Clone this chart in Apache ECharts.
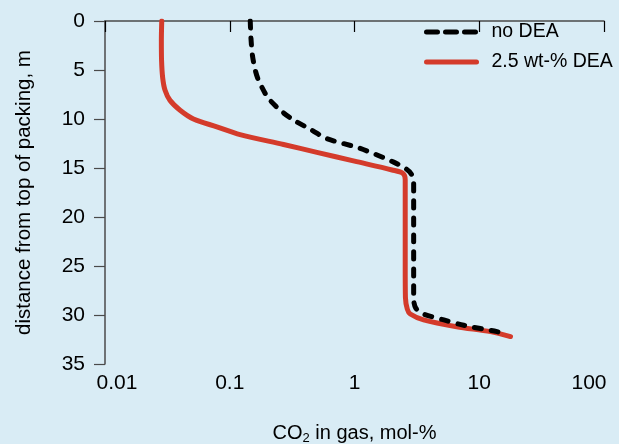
<!DOCTYPE html>
<html>
<head>
<meta charset="utf-8">
<script src="https://cdn.jsdelivr.net/npm/echarts@6/dist/echarts.min.js"></script>
<style>
html,body{margin:0;padding:0;background:#d9ecf5;}
#c{width:619px;height:444px;}
</style>
</head>
<body>
<div id="c"></div>
<script>
const seriesNames = ['no DEA', '2.5 wt-% DEA'];
const xTickLabels = ['0.01', '0.1', '1', '10', '100'];
const yTickLabels = [0, 5, 10, 15, 20, 25, 30, 35];
// [CO2 mol-%, distance m]
const noDEA = [
  [0.146, 0], [0.148, 1.8], [0.152, 3.5], [0.16, 5], [0.17, 6.05], [0.187, 7.1],
  [0.204, 7.9], [0.254, 9.1], [0.324, 10.1], [0.45, 11.1], [0.60, 12.0], [1.11, 13.0],
  [2.06, 14.4], [2.6, 15.1], [2.85, 15.6], [2.98, 16.4], [2.98, 18], [2.98, 22], [2.98, 26],
  [2.98, 28.3], [3.1, 29.3], [3.58, 29.9], [5.2, 30.5], [7.5, 31.05], [13.9, 31.7],
  [15.6, 31.9]
];
const dea25 = [
  [0.0285, 0], [0.0283, 2], [0.0284, 4], [0.029, 5.8], [0.0303, 7.07], [0.0332, 8.1],
  [0.040, 9.1], [0.0512, 10.0], [0.0788, 10.8], [0.121, 11.6], [0.27, 12.6],
  [0.50, 13.4], [1.0, 14.3], [2.0, 15.2], [2.45, 15.55], [2.55, 16.2], [2.55, 20],
  [2.55, 25], [2.56, 28.2], [2.65, 29.4], [2.8, 29.9], [3.58, 30.5], [6.6, 31.2],
  [12.3, 31.7], [17.8, 32.2]
];

const chart = echarts.init(document.getElementById('c'), null, {renderer: 'canvas'});
const FONT = 'Liberation Sans';
const axisColor = '#4a4a4a';
chart.setOption({
  backgroundColor: '#d9ecf5',
  animation: false,
  textStyle: {fontFamily: FONT, color: '#000'},
  grid: {left: 105, right: 15, top: 21, bottom: 80, containLabel: false, outerBoundsMode: 'none'},
  legend: {
    orient: 'vertical',
    left: 424, top: 22, padding: 0,
    itemWidth: 50, itemHeight: 20, itemGap: 10,
    itemStyle: {opacity: 0},
    lineStyle: {width: 5, cap: 'round'},
    textStyle: {fontFamily: FONT, fontSize: 19.5, lineHeight: 20, color: '#000', padding: [0, 0, 0, 10]},
    data: [
      {name: seriesNames[0], lineStyle: {width: 5, cap: 'round', type: [11, 8]}},
      {name: seriesNames[1], lineStyle: {width: 5, cap: 'round', type: 'solid'}}
    ]
  },
  xAxis: {
    type: 'log', logBase: 10, min: 0.01, max: 100,
    name: '{a|CO}{s|2}{a| in gas, mol-%}',
    nameLocation: 'middle', nameGap: 58,
    nameTextStyle: {
      rich: {
        a: {fontFamily: FONT, fontSize: 20, color: '#000'},
        s: {fontFamily: FONT, fontSize: 13, color: '#000', verticalAlign: 'bottom', padding: [10, 0, 0, 0]}
      }
    },
    axisLine: {show: true, lineStyle: {color: axisColor, width: 1.5}},
    axisTick: {show: true, inside: false, length: 11, lineStyle: {color: '#000', width: 1.2}},
    minorTick: {show: false},
    splitLine: {show: false},
    axisLabel: {
      fontFamily: FONT, fontSize: 21, color: '#000', margin: 9,
      formatter: function (v) {
        const idx = Math.round(Math.log10(v)) + 2;
        const t = xTickLabels[idx] !== undefined ? xTickLabels[idx] : '';
        if (idx === 0) return '{l|' + t + '}';
        if (idx === 4) return '{r|' + t + '}';
        return t;
      },
      rich: {
        l: {fontFamily: FONT, fontSize: 21, color: '#000', padding: [0, 0, 0, 24]},
        r: {fontFamily: FONT, fontSize: 21, color: '#000', padding: [0, 30, 0, 0]}
      }
    }
  },
  yAxis: {
    type: 'value', inverse: true, min: 0, max: 35, interval: 5,
    name: 'distance from top of packing, m',
    nameLocation: 'middle', nameGap: 70, nameRotate: 90,
    nameTextStyle: {fontFamily: FONT, fontSize: 20.5, color: '#000'},
    axisLine: {show: true, lineStyle: {color: axisColor, width: 1.5}},
    axisTick: {show: true, inside: false, length: 11, lineStyle: {color: axisColor, width: 1.2}},
    splitLine: {show: false},
    axisLabel: {
      fontFamily: FONT, fontSize: 21, color: '#000', margin: 20,
      formatter: function (v) { return yTickLabels.indexOf(v) >= 0 ? String(v) : ''; }
    }
  },
  series: [
    {
      name: seriesNames[0], type: 'line', data: noDEA, smooth: 0.3,
      showSymbol: false, symbol: 'none', z: 3,
      lineStyle: {color: '#000', width: 5, type: [7, 10], cap: 'round', join: 'round'},
      itemStyle: {color: '#000'}
    },
    {
      name: seriesNames[1], type: 'line', data: dea25, smooth: 0.3,
      showSymbol: false, symbol: 'none', z: 2,
      lineStyle: {color: '#d43b2b', width: 5, cap: 'round', join: 'round'},
      itemStyle: {color: '#d43b2b'}
    }
  ]
});
</script>
</body>
</html>
